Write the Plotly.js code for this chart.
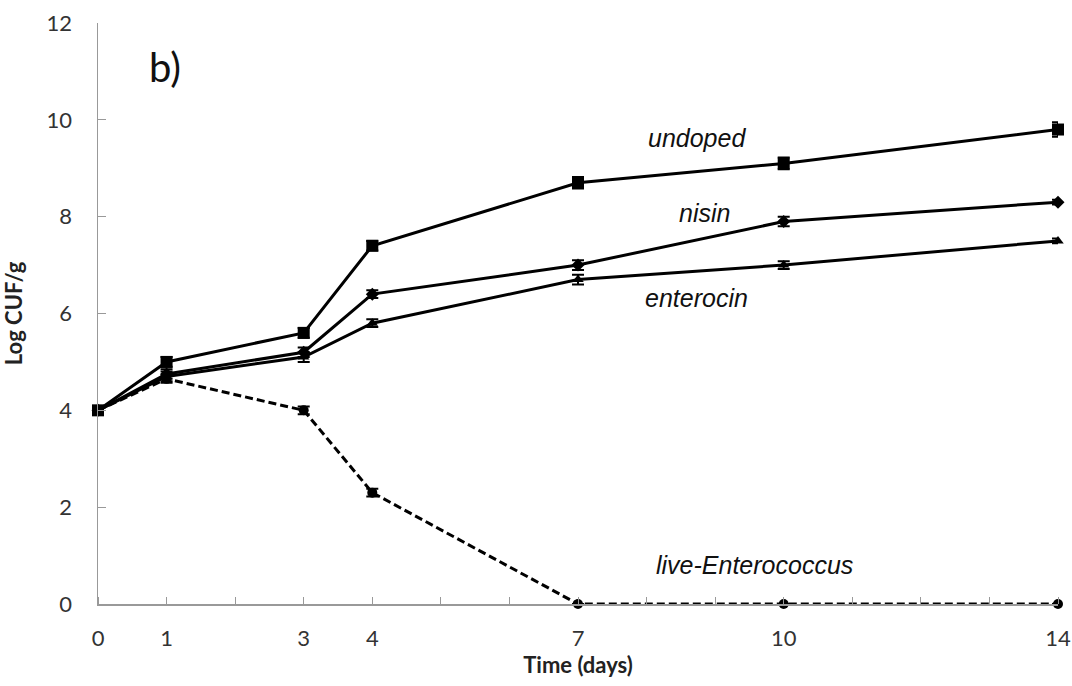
<!DOCTYPE html>
<html><head><meta charset="utf-8">
<script src="https://cdn.plot.ly/plotly-3.0.1.min.js"></script>
<style>html,body{margin:0;padding:0;background:#fff}#chart{width:1072px;height:686px}</style>
</head><body><div id="chart"></div>
<script>
const days = [0, 1, 3, 4, 7, 10, 14];
const undoped = [4.0, 5.0, 5.6, 7.4, 8.7, 9.1, 9.8];
const nisin = [4.0, 4.75, 5.2, 6.4, 7.0, 7.9, 8.3];
const enterocin = [4.0, 4.7, 5.1, 5.8, 6.7, 7.0, 7.5];
const liveEnterococcus = [4.0, 4.65, 4.0, 2.3, 0, 0, 0];
const errUndoped = [0.05, 0.1, 0.1, 0.1, 0.12, 0.12, 0.15];
const errNisin = [0.05, 0.1, 0.1, 0.08, 0.1, 0.1, 0.05];
const errEnterocin = [0.05, 0.1, 0.1, 0.08, 0.1, 0.08, 0.05];
const errLive = [0.05, 0.08, 0.08, 0.08, 0, 0, 0];
const tickDays = [0, 1, 3, 4, 7, 10, 14];
const labels = ['undoped', 'nisin', 'enterocin', 'live-Enterococcus'];

function tr(y, err, sym, dash, size) {
  return {
    x: days, y: y, type: 'scatter', mode: 'lines+markers', cliponaxis: false,
    line: {color: '#000', width: 3, dash: dash},
    marker: {symbol: sym, size: size, color: '#000'},
    error_y: {type: 'data', array: err, visible: true, color: '#000', thickness: 2, width: 6},
    showlegend: false
  };
}
const data = [
  tr(undoped, errUndoped, 'square', 'solid', 12),
  tr(nisin, errNisin, 'diamond', 'solid', 10),
  tr(enterocin, errEnterocin, 'triangle-up', 'solid', 10),
  tr(liveEnterococcus, errLive, 'circle', '8px,4px', 10)
];
const annFont = {family: 'Liberation Sans, Arial, sans-serif', size: 25, color: '#111'};
const layout = {
  width: 1072, height: 686,
  margin: {l: 98, r: 14, t: 23, b: 82},
  paper_bgcolor: '#fff', plot_bgcolor: '#fff',
  xaxis: {
    range: [0, 14], showgrid: false, zeroline: false,
    showline: true, linecolor: '#999', linewidth: 1.5,
    tickmode: 'array', tickvals: tickDays, ticktext: tickDays.map(String),
    ticks: '', ticklabelstandoff: 14,
    tickfont: {family: 'Lato, Open Sans, sans-serif', size: 22, color: '#333'},
    minor: {ticks: 'inside', dtick: 1, tick0: 0, ticklen: 7, tickcolor: '#999', tickwidth: 1},
    title: {text: '<b>Time (days)</b>', font: {family: 'Lato, sans-serif', size: 22, color: '#222'}, standoff: 6}
  },
  yaxis: {
    range: [0, 12], showgrid: false, zeroline: false,
    showline: true, linecolor: '#999', linewidth: 1.5,
    tickvals: [0, 2, 4, 6, 8, 10, 12], ticks: 'inside', ticklen: 8, tickcolor: '#999',
    ticklabelstandoff: 20,
    tickfont: {family: 'Lato, Open Sans, sans-serif', size: 22, color: '#333'},
    title: {text: '<b>Log CUF/g</b>', font: {family: 'Lato, sans-serif', size: 22, color: '#222'}, standoff: 24}
  },
  annotations: [
    {x: 8.73, y: 9.62, xref: 'x', yref: 'y', text: '<i>' + labels[0] + '</i>', showarrow: false, font: annFont, xanchor: 'center'},
    {x: 8.84, y: 8.07, xref: 'x', yref: 'y', text: '<i>' + labels[1] + '</i>', showarrow: false, font: annFont, xanchor: 'center'},
    {x: 8.73, y: 6.32, xref: 'x', yref: 'y', text: '<i>' + labels[2] + '</i>', showarrow: false, font: annFont, xanchor: 'center'},
    {x: 9.58, y: 0.8, xref: 'x', yref: 'y', text: '<i>' + labels[3] + '</i>', showarrow: false, font: annFont, xanchor: 'center'},
    {x: 0.98, y: 11.1, xref: 'x', yref: 'y', text: 'b)', showarrow: false, font: {family: 'Lato, sans-serif', size: 40, color: '#111'}, xanchor: 'center'}
  ]
};
Plotly.newPlot('chart', data, layout, {displayModeBar: false, staticPlot: true});
</script></body></html>
